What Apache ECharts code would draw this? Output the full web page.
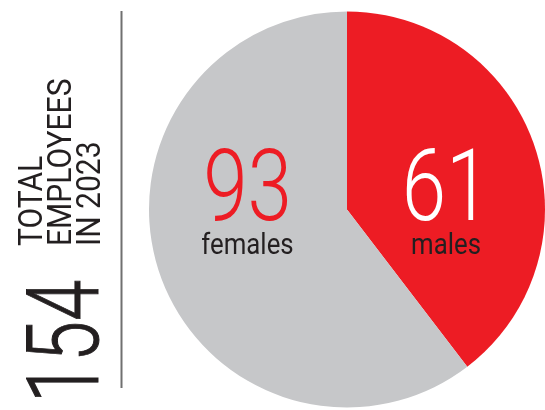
<!DOCTYPE html>
<html>
<head>
<meta charset="utf-8">
<script src="https://cdn.jsdelivr.net/npm/echarts@6/dist/echarts.min.js"></script>
<style>html,body{margin:0;padding:0;background:#fff}#c{width:545px;height:410px}</style>
</head>
<body>
<div id="c"></div>
<script>
const categories = ['males', 'females'];
const values = [61, 93];
const sliceColors = ['#ED1C24', '#C6C7C9'];
const numberColors = ['#FFFFFF', '#ED1C24'];
const captionLines = ['TOTAL', 'EMPLOYEES', 'IN 2023'];
const total = values.reduce((a, b) => a + b, 0);

const chart = echarts.init(document.getElementById('c'), null, {renderer: 'canvas'});
const FONT = 'Roboto, "Noto Sans", sans-serif';
const labelPos = [[446, 195, 261], [247.5, 195, 261]];

const graphics = [
  {type: 'line', z: 100, shape: {x1: 121.5, y1: 11, x2: 121.5, y2: 388}, style: {stroke: '#707070', lineWidth: 2}},
  {type: 'text', z: 100, x: 73, y: 403, rotation: Math.PI / 2, scaleX: 0.74,
   style: {text: String(total), font: '300 100px ' + FONT, fill: '#231F20', align: 'left', verticalAlign: 'middle', stroke: '#231F20', lineWidth: 1}}
];
const capX = [34, 63, 92];
captionLines.forEach((t, i) => {
  graphics.push({type: 'text', z: 100, x: capX[i], y: 246, rotation: Math.PI / 2, scaleX: 0.91,
    style: {text: t, font: '400 33px ' + FONT, fill: '#231F20', align: 'left', verticalAlign: 'middle'}});
});
categories.forEach((c, i) => {
  const p = labelPos[i];
  graphics.push({type: 'text', z: 100, x: p[0], y: p[1], scaleX: 0.8,
    style: {text: String(values[i]), font: '300 100px ' + FONT, fill: numberColors[i], align: 'center', verticalAlign: 'middle'}});
  graphics.push({type: 'text', z: 100, x: p[0], y: p[2], scaleX: 0.86,
    style: {text: c, font: '400 30px ' + FONT, fill: '#231F20', align: 'center', verticalAlign: 'bottom'}});
});

chart.setOption({
  animation: false,
  series: [{
    type: 'pie',
    center: [347, 209.5],
    radius: [0, 198],
    startAngle: 90,
    clockwise: true,
    label: {show: false},
    labelLine: {show: false},
    emphasis: {disabled: true},
    itemStyle: {borderWidth: 0},
    data: categories.map((c, i) => ({name: c, value: values[i], itemStyle: {color: sliceColors[i]}}))
  }],
  graphic: {elements: graphics}
});
</script>
</body>
</html>
